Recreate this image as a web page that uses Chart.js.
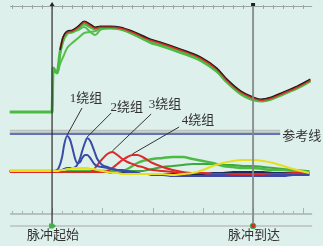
<!DOCTYPE html>
<html>
<head>
<meta charset="utf-8">
<script src="https://cdn.jsdelivr.net/npm/chart.js@4.4.1/dist/chart.umd.min.js"></script>
<style>
  html, body { margin: 0; padding: 0; background: #ddf0eb; }
  #wrap { width: 323px; height: 246px; position: relative; }
</style>
</head>
<body>
<div id="wrap"><canvas id="scope"></canvas></div>
<script>
// time in screen units: 0 = pulse start, 100 = pulse arrival
const pulseStart = 0;
const pulseArrive = 100;
const markerLabels = ['脉冲起始', '脉冲到达'];

// upper channel - impulse response traces
const tUpper = [-21, 0, 0.5, 2.5, 4, 5.5, 7.5, 10, 13, 16, 19, 21.5, 24, 29, 34, 40, 49, 54, 64, 74, 82, 87, 94, 99, 104, 109, 115, 122, 128.5];
const upperRed   = [null, null, null, null, 62, 75, 80, 81, 85, 90, 87, 84, 85, 85, 84, 80, 72, 69, 62, 54, 43, 32, 20, 15, 12, 14, 19, 25, 32];
const upperBlack = [null, null, null, null, 62, 75, 81, 82, 86, 91, 88, 85, 86, 86, 85, 81, 73, 70, 63, 55, 44, 33, 21, 16, 13, 15, 20, 26, 33];
const upperGreenA = [0, 0, 44, 39, 60, 73, 79, 80, 84, 88, 85, 83, 84, 84, 83, 79, 70, 67, 60, 52, 41, 30, 18, 13, 11, 13, 18, 24, 31];
const upperGreenB = [0, 0, 44, 39, 58, 70, 78, 80, 82, 85, 80, 77, 82, 84, 83, 78, 69, 66, 59, 51, 40, 30, 19, 14, 12, 14, 19, 25, 32];
const upperGreenC = [0, 0, 44, 39, 48, 55, 64, 69, 74, 79, 80, 81, 83, 84, 83, 78, 70, 67, 60, 52, 42, 31, 19, 14, 11, 13, 18, 24, 31];

// lower channel - winding responses
const tLower = [-21, -15, -10, -5, 0, 2.5, 5, 6, 7.5, 9, 10, 11.5, 12.5, 14, 15, 16.5, 17.5, 19, 21, 22.5, 25, 27.5, 30, 32.5, 35, 37.5, 40, 42.5, 45, 47.5, 50, 55, 60, 65, 70, 75, 80, 85, 90, 95, 100, 105, 110, 115, 120, 128];
const winding1 = [0,0,0,0,0, 1,14,26,35,31, 24,12,8,9,13, 16,16,13,7,5, 4,3,2,1,0, -1,-1,-2,-3,-3, -4,-4,-5,-5,-5, -5,-5,-5,-5,-5, -5,-5,-4,-4,-4, -4];
const winding2 = [0,0,0,0,0, 0,1,2,3,3, 3,4,6,13,20, 29,33,30,20,12, 6,4,2,1,1, 0,-1,-2,-3,-3, -3,-4,-4,-5,-5, -5,-4,-4,-5,-5, -5,-5,-5,-5,-4, -4];
const winding3 = [-1,-1,-1,-1,-1, -1,-1,-1,-1,-1, -1,-1,-1,-1,-1, -1,-1,-1,2,6, 12,17,19,16,12, 9,7,5,4,2, 1,0,-1,-2,-2, -2,-3,-3,-3,-4, -4,-4,-4,-3,-3, -2];
const winding4 = [-1,-1,-1,-1,-1, -1,-1,-1,-1,-1, -1,-1,-1,-1,-1, -1,-1,-1,-1,-1, -1,0,3,7,11, 14,16,16,14,11, 8,4,1,-1,-2, -2,-3,-3,-3,-3, -3,-3,-3,-3,-2, -2];
const lowerGreen  = [0,0,0,0,0, 0,0,0,0,0, 0,0,0,0,0, 0,0,0,0,0, 0,0,0,0,0, 2,5,8,10,11, 12,13,14,14,12, 10,8,5,4,3, 3,2,1,1,0, -1];
const lowerGreen2 = [0,0,0,0,0, 0,0,0,0,0, 0,0,0,0,0, 0,0,0,0,0, 0,0,0,0,0, 0,0,0,0,1, 2,4,5,6,7, 7,7,6,6,5, 5,4,3,2,1, 0];
const lowerYellow = [0,0,0,0,0, 0,1,1,2,2, 3,3,3,3,3, 3,3,2,2,1, 0,-1,-2,-2,-3, -3,-3,-3,-3,-3, -3,-3,-4,-3,-2, 1,5,8,10,11, 11,10,8,5,2, -2];
const lowerBlack  = [0,0,0,0,0, 0,0,0,0,0, 0,0,0,0,0, 0,0,0,0,-1, -1,-1,-2,-2,-2, -2,-2,-3,-3,-3, -3,-3,-3,-3,-3, -3,-2,-2,-1,-1, -1,-1,-2,-2,-2, -2];

const windingLabels = ['1绕组', '2绕组', '3绕组', '4绕组'];
const refLevel = 37;
const refBand = [40.5, 38.7];
const refSpan = [-21, 113.5];
const refLabel = '参考线';

function trace(ts, vs, color, width, axis) {
    return {
        data: ts.map((t, i) => ({ x: t, y: vs[i] })),
        borderColor: color,
        borderWidth: width,
        yAxisID: axis,
        pointRadius: 0,
        cubicInterpolationMode: 'monotone',
        fill: false
    };
}

function flat(level, color, width) {
    return {
        data: refSpan.map(t => ({ x: t, y: level })),
        borderColor: color,
        borderWidth: width,
        yAxisID: 'yLow',
        pointRadius: 0,
        fill: false
    };
}

// label spots for the winding annotations (text centre and leader start)
const labelSpots = [
    { t: 16.9, v: 72, fromT: 14.9, fromV: 63, series: winding1 },
    { t: 37.1, v: 63, fromT: 29.4, fromV: 58, series: winding2 },
    { t: 56.2, v: 66, fromT: 49.3, fromV: 57, series: winding3 },
    { t: 72.6, v: 50, fromT: 63.2, fromV: 44, series: winding4 }
];

const FONT = '13px "Liberation Serif", "Noto Sans CJK SC", serif';

const scopeDecor = {
    id: 'scopeDecor',
    beforeDatasetsDraw(chart) {
        const ctx = chart.ctx;
        const x = chart.scales.x, yU = chart.scales.yUp, yL = chart.scales.yLow;
        const left = x.getPixelForValue(-20.9), right = x.getPixelForValue(129.4);
        ctx.save();

        // top ruler
        const topY = yU.getPixelForValue(106);
        ctx.strokeStyle = '#9aa5a1';
        ctx.lineWidth = 1;
        ctx.beginPath();
        ctx.moveTo(left, topY + 0.5);
        ctx.lineTo(right, topY + 0.5);
        ctx.stroke();
        for (let t = -20; t <= 125; t += 5) {
            const px = Math.round(x.getPixelForValue(t)) + 0.5;
            ctx.beginPath();
            ctx.moveTo(px, topY - 1);
            ctx.lineTo(px, topY + 3);
            ctx.stroke();
        }

        // bottom ruler
        const botY = yL.getPixelForValue(-43);
        ctx.strokeStyle = '#b7c1bd';
        ctx.lineWidth = 2;
        ctx.beginPath();
        ctx.moveTo(left, botY);
        ctx.lineTo(right, botY);
        ctx.stroke();
        ctx.lineWidth = 1;
        ctx.strokeStyle = '#a9b3af';
        for (let t = -20; t <= 125; t += 5) {
            const px = Math.round(x.getPixelForValue(t)) + 0.5;
            const h = (t % 25 === 0) ? 6 : 3;
            ctx.beginPath();
            ctx.moveTo(px, botY - h);
            ctx.lineTo(px, botY);
            ctx.stroke();
        }

        // marker track
        const trackY = yL.getPixelForValue(-55);
        ctx.strokeStyle = '#c4ccc8';
        ctx.lineWidth = 2;
        ctx.beginPath();
        ctx.moveTo(left, trackY);
        ctx.lineTo(right, trackY);
        ctx.stroke();
        ctx.restore();
    },
    afterDatasetsDraw(chart) {
        const ctx = chart.ctx;
        const x = chart.scales.x, yU = chart.scales.yUp, yL = chart.scales.yLow;
        const topY = yU.getPixelForValue(108);
        const trackY = yL.getPixelForValue(-55);
        const xs = x.getPixelForValue(pulseStart);
        const xa = x.getPixelForValue(pulseArrive);
        ctx.save();

        // pulse arrival line (gray) and pulse start line (dark)
        ctx.strokeStyle = 'rgba(130,138,135,0.9)';
        ctx.lineWidth = 2;
        ctx.beginPath();
        ctx.moveTo(xa, topY);
        ctx.lineTo(xa, trackY - 1);
        ctx.stroke();
        ctx.strokeStyle = '#2b2b2b';
        ctx.lineWidth = 1.2;
        ctx.beginPath();
        ctx.moveTo(xs, topY);
        ctx.lineTo(xs, trackY);
        ctx.stroke();

        // small top markers
        ctx.fillStyle = '#222';
        ctx.beginPath();
        ctx.moveTo(xs, topY - 2);
        ctx.lineTo(xs - 2.5, topY + 2);
        ctx.lineTo(xs + 2.5, topY + 2);
        ctx.closePath();
        ctx.fill();
        ctx.fillRect(xa - 2, topY - 1, 4, 3);

        // start flag and arrival dot on the track
        ctx.fillStyle = '#3fb34a';
        ctx.beginPath();
        ctx.moveTo(xs - 3, trackY - 2.5);
        ctx.lineTo(xs + 1, trackY - 2.5);
        ctx.lineTo(xs + 4, trackY);
        ctx.lineTo(xs + 1, trackY + 2.5);
        ctx.lineTo(xs - 3, trackY + 2.5);
        ctx.closePath();
        ctx.fill();
        ctx.beginPath();
        ctx.arc(xa, trackY, 2.8, 0, Math.PI * 2);
        ctx.fillStyle = '#c8302c';
        ctx.fill();
        ctx.strokeStyle = '#3fb34a';
        ctx.lineWidth = 1;
        ctx.stroke();

        // text
        ctx.font = FONT;
        ctx.fillStyle = '#333';
        ctx.textBaseline = 'middle';
        ctx.textAlign = 'center';
        const labY = yL.getPixelForValue(-65);
        ctx.fillText(markerLabels[0], xs + 1, labY);
        ctx.fillText(markerLabels[1], xa + 1, labY);

        ctx.textAlign = 'left';
        ctx.fillText(refLabel, x.getPixelForValue(refSpan[1]) + 2, yL.getPixelForValue(34.5));

        // winding labels with leader lines to each peak
        ctx.strokeStyle = '#333';
        ctx.lineWidth = 1;
        labelSpots.forEach((s, i) => {
            const peak = Math.max(...s.series);
            const k = s.series.indexOf(peak);
            ctx.beginPath();
            ctx.moveTo(x.getPixelForValue(s.fromT), yL.getPixelForValue(s.fromV));
            ctx.lineTo(x.getPixelForValue(tLower[k]), yL.getPixelForValue(peak) - 1);
            ctx.stroke();
            ctx.textAlign = 'center';
            ctx.fillText(windingLabels[i], x.getPixelForValue(s.t), yL.getPixelForValue(s.v));
        });
        ctx.restore();
    }
};

const ctx = document.getElementById('scope').getContext('2d');
new Chart(ctx, {
    type: 'line',
    data: {
        datasets: [
            // first dataset is drawn on top
            trace(tLower, lowerYellow, '#e6df1e', 2, 'yLow'),
            trace(tLower, winding1, '#3a4aa6', 2, 'yLow'),
            trace(tLower, winding2, '#3a4aa6', 2, 'yLow'),
            trace(tLower, winding3, '#e02a2a', 2, 'yLow'),
            trace(tLower, winding4, '#e02a2a', 2, 'yLow'),
            trace(tLower, lowerGreen, '#4cbb44', 2.5, 'yLow'),
            trace(tLower, lowerGreen2, '#3fa83c', 2, 'yLow'),
            trace(tLower, lowerBlack, '#1f2a5a', 2, 'yLow'),
            flat(refLevel, '#3a4aa6', 1.5),
            flat(refBand[0], '#b9c2be', 1.5),
            flat(refBand[1], '#b9c2be', 1.5),
            trace(tUpper, upperBlack, '#1e1e1e', 1.2, 'yUp'),
            trace(tUpper, upperRed, '#dd2b2b', 2, 'yUp'),
            trace(tUpper, upperGreenA, '#4cbb44', 3, 'yUp'),
            trace(tUpper, upperGreenB, '#55c04c', 2, 'yUp'),
            trace(tUpper, upperGreenC, '#55c04c', 2, 'yUp')
        ]
    },
    options: {
        responsive: true,
        maintainAspectRatio: false,
        animation: false,
        layout: { padding: 0 },
        plugins: {
            legend: { display: false },
            tooltip: { enabled: false }
        },
        scales: {
            x: { type: 'linear', min: -25.9, max: 134.8, display: false },
            yUp: { type: 'linear', min: -134, max: 112, display: false },
            yLow: { type: 'linear', min: -75, max: 171, display: false }
        }
    },
    plugins: [scopeDecor]
});
</script>
</body>
</html>
